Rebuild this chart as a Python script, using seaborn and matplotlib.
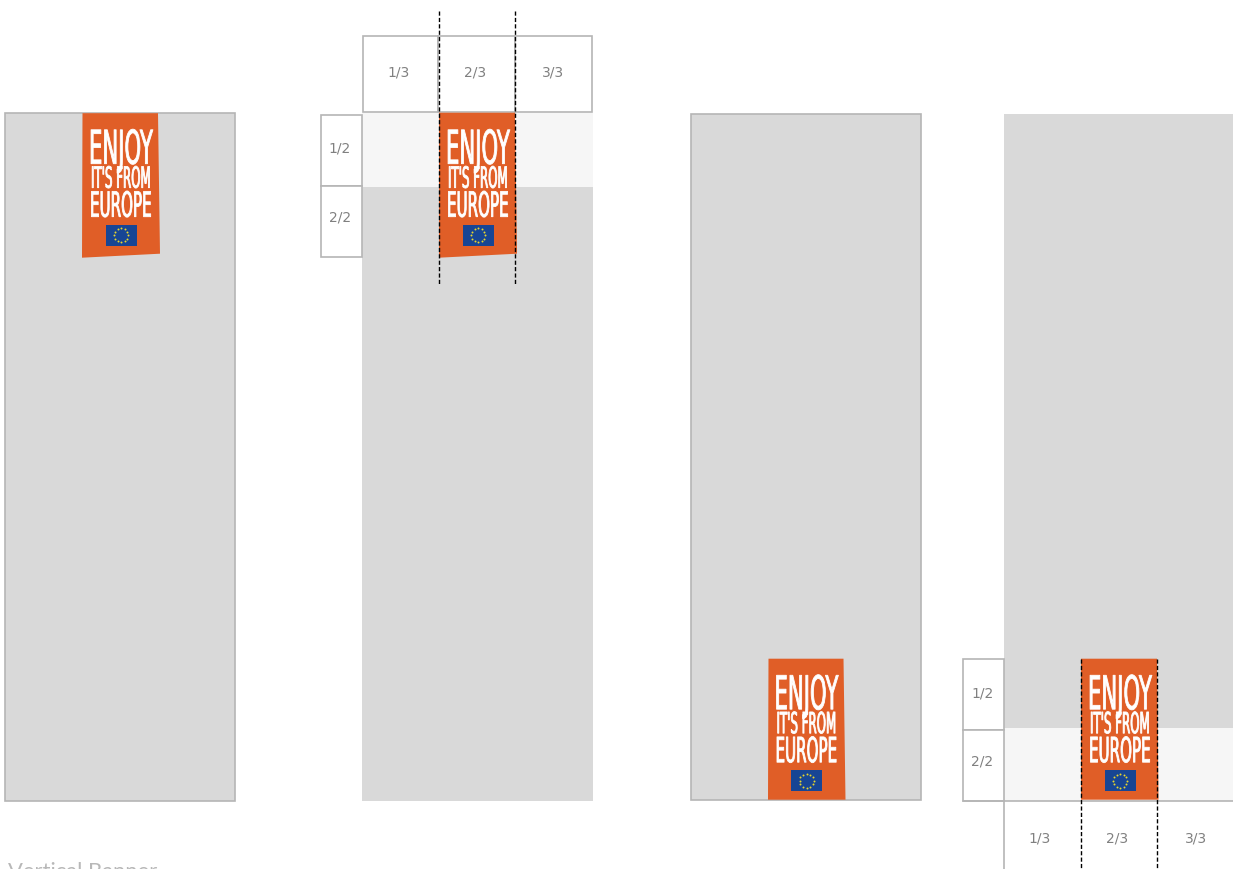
import numpy as np
import pandas as pd
import matplotlib
matplotlib.use('Agg')
import matplotlib.pyplot as plt
from matplotlib.patches import Rectangle, Polygon
from matplotlib.patheffects import AbstractPathEffect
from matplotlib.transforms import Affine2D
import seaborn as sns

GREY = '#D9D9D9'
LIGHT = '#F6F6F6'
EDGE = '#B5B5B5'
ORANGE = '#E05E27'
BLUE = '#174594'
STAR = '#E8D62C'
LABEL = '#808080'

# x0, y0, x1, y1 in picture pixels
panels = [(5.5, 113.5, 235.5, 801.5), (691.5, 114.5, 921.5, 800.5)]
plain_panels = [(362, 113, 593, 801), (1004, 114, 1233, 801)]
light_bands = [(362, 113, 593, 187), (1004, 728, 1233, 801)]

banner_shapes = [
    [(83, 113.5), (158.5, 113.5), (160.5, 254), (82.5, 258)],
    [(439.5, 113), (515.5, 113), (517.5, 254), (439.5, 258)],
    [(769, 659), (844, 659), (846, 800), (768.5, 800)],
    [(1081.5, 659), (1157.5, 659), (1159, 800), (1081.5, 800)],
]
banner_shift = [(0, 0), (357, 0), (685.5, 545.5), (999, 545.5)]

# words on the banner: string, left, baseline, font size, squeeze
banner_words = [
    ('ENJOY', 89.5, 164, 33.5, 0.455),
    ("IT'S FROM", 91.5, 188, 21, 0.405),
    ('EUROPE', 90.5, 217, 25, 0.435),
]
flag_box = (106, 225, 137, 246)

cell_boxes = [
    (363, 36, 438.5, 112), (438.5, 36, 515.5, 112), (515.5, 36, 592, 112),
    (321, 115, 362, 186), (321, 186, 362, 257),
    (963.5, 659, 1004, 730), (963.5, 730, 1004, 801),
]
cell_labels = ['1/3', '2/3', '3/3', '1/2', '2/2', '1/2', '2/2', '1/3', '2/3', '3/3']
cell_label_x = [399, 476, 553.5, 340.5, 340.5, 983, 983, 1040.5, 1117.5, 1196]
cell_label_y = [72, 72, 72, 148, 217, 693, 761, 838, 838, 838]

dashed_lines = [(439, 11, 284), (515.5, 11, 284), (1081, 659, 870), (1157.5, 659, 870)]
star_hours = list(range(12))


class Squeeze(AbstractPathEffect):
    # narrows the glyphs sideways and thickens them a little, the banner lettering is very condensed
    def __init__(self, factor, stroke=0.6):
        super().__init__()
        self.factor = factor
        self.stroke = stroke

    def draw_path(self, renderer, gc, tpath, affine, rgbFace=None):
        gc0 = renderer.new_gc()
        gc0.copy_properties(gc)
        gc0.set_linewidth(self.stroke)
        gc0.set_foreground('white')
        renderer.draw_path(gc0, tpath, Affine2D().scale(self.factor, 1) + affine, rgbFace)
        gc0.restore()


sns.set_theme(style='white')
plt.rcParams['font.family'] = ['DejaVu Sans']

fig = plt.figure(figsize=(12.33, 8.70), dpi=100)
ax = fig.add_axes([0, 0, 1, 1])
ax.axis('off')


def box(x0, y0, x1, y1, face, edge='none', lw=1.2, z=1):
    ax.add_patch(Rectangle((x0, y0), x1 - x0, y1 - y0, facecolor=face, edgecolor=edge, linewidth=lw, zorder=z))


for p in panels:
    box(*p, GREY, EDGE)
for p in plain_panels:
    box(*p, GREY)
for p in light_bands:
    box(*p, LIGHT, z=2)

for c in cell_boxes:
    box(*c, 'white', EDGE, z=3)

# open frame under the last panel
ax.plot([963.5, 1233.5], [801, 801], color=EDGE, lw=1.2, zorder=3)
ax.plot([1004.5, 1004.5], [801, 871], color=EDGE, lw=1.2, zorder=3)

for x, y, lab in zip(cell_label_x, cell_label_y, cell_labels):
    ax.text(x, y, lab, ha='center', va='center', fontsize=10, color=LABEL, zorder=4)

stars = []
for shape, (dx, dy) in zip(banner_shapes, banner_shift):
    ax.add_patch(Polygon(shape, closed=True, facecolor=ORANGE, edgecolor='none', zorder=5))
    for word, x, y, size, squeeze in banner_words:
        ax.text(x + dx, y + dy, word, ha='left', va='baseline', fontsize=size, color='white',
                family='Liberation Sans Narrow', zorder=6, path_effects=[Squeeze(squeeze)])
    fx0, fy0, fx1, fy1 = flag_box
    box(fx0 + dx, fy0 + dy, fx1 + dx, fy1 + dy, BLUE, z=6)
    cx = (fx0 + fx1) / 2 + dx
    cy = (fy0 + fy1) / 2 + dy
    for h in star_hours:
        a = np.deg2rad(h * 30)
        stars.append({'x': cx + 7 * np.sin(a), 'y': cy - 7 * np.cos(a)})

sns.scatterplot(data=pd.DataFrame(stars), x='x', y='y', ax=ax, marker='o', s=2,
                color=STAR, linewidth=0, zorder=7, legend=False)

for x, y0, y1 in dashed_lines:
    ax.plot([x, x], [y0, y1], color='black', lw=1, linestyle=(0, (3, 1.6)), zorder=8)

ax.text(8, 877.5, 'Vertical Banner', ha='left', va='baseline', fontsize=15.8,
        family='Lato', color='#B8B8B8')

# pixel frame, nudged to sit on the reference's pixel grid
ax.set_xlim(0.5, 1233.5)
ax.set_ylim(869.3, -0.7)

fig.savefig('out.png', dpi=100)
